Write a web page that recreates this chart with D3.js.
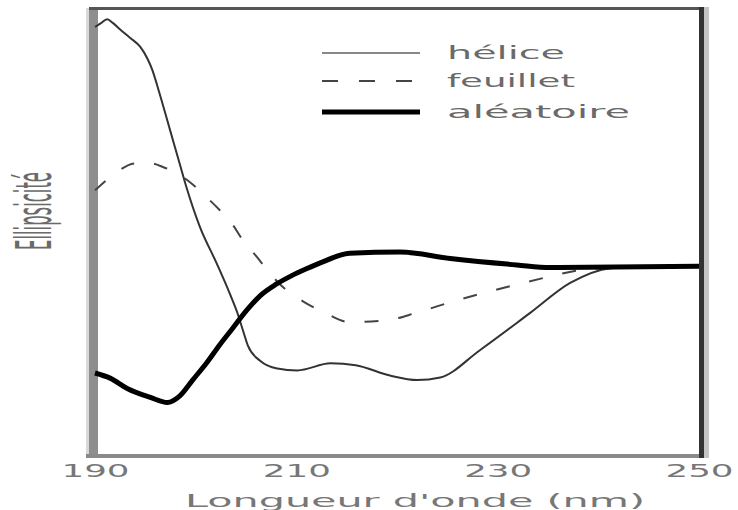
<!DOCTYPE html>
<html>
<head>
<meta charset="utf-8">
<script src="https://cdn.jsdelivr.net/npm/d3@7"></script>
<style>
  body { margin: 0; background: #fff; }
  text { font-family: "DejaVu Sans", "Liberation Sans", sans-serif; }
</style>
</head>
<body>
<script>
// Data (wavelength in nm, ellipticity in arbitrary units)
const heliceX = [190, 190.6, 191.2, 191.8, 192.5, 193.5, 194.5, 195.2, 195.7, 196.2, 197.45, 198.4, 199.1, 200.4, 202.1, 203.4, 204.2, 204.7, 205.2, 206.4, 208.1, 210.1, 213.4, 215.9, 219.3, 222, 224.3, 228.2, 233.2, 237.2, 241.2, 245.1, 250];
const heliceY = [3.72, 3.78, 3.84, 3.78, 3.68, 3.55, 3.41, 3.23, 3.05, 2.80, 2.12, 1.60, 1.22, 0.62, 0.04, -0.43, -0.75, -1.00, -1.24, -1.47, -1.59, -1.62, -1.51, -1.54, -1.70, -1.77, -1.73, -1.31, -0.73, -0.26, -0.03, 0, 0];

const feuilletX = [190, 191.8, 194, 195.5, 196.8, 199.4, 200.9, 202.4, 203.7, 204.7, 206.1, 207.1, 208.5, 210.7, 212.8, 215.3, 219, 222, 225.3, 228.5, 231.5, 234.9, 238.2, 241.2, 245.1, 250];
const feuilletY = [1.18, 1.42, 1.60, 1.60, 1.54, 1.31, 1.10, 0.87, 0.64, 0.40, 0.14, -0.06, -0.30, -0.55, -0.72, -0.87, -0.84, -0.72, -0.56, -0.42, -0.30, -0.17, -0.06, -0.02, 0, 0];

const aleatoireX = [190, 191.5, 193.2, 195.5, 197.2, 198.4, 199.7, 201.1, 202.4, 203.7, 205.1, 206.4, 208, 209.5, 211, 212.5, 215.3, 220.3, 225.3, 231.9, 235.2, 250];
const aleatoireY = [-1.66, -1.74, -1.90, -2.04, -2.12, -2.02, -1.77, -1.50, -1.22, -0.96, -0.68, -0.46, -0.28, -0.15, -0.04, 0.06, 0.20, 0.22, 0.12, 0.02, -0.02, 0];

const xTicks = [190, 210, 230, 250];
const legendLabels = ['hélice', 'feuillet', 'aléatoire'];

// Layout
const width = 738;
const height = 510;
const plotLeft = 95, plotRight = 699, plotTop = 9, plotBottom = 454;

const svg = d3.select('body')
  .append('svg')
  .attr('width', width)
  .attr('height', height);

const x = d3.scaleLinear().domain([190, 250]).range([plotLeft, plotRight]);
const y = d3.scaleLinear().domain([-2.92, 4]).range([plotBottom, plotTop]);

// Frame
svg.append('rect').attr('x', 86).attr('y', plotTop - 1).attr('width', 3).attr('height', plotBottom - plotTop + 5).attr('fill', '#d8d8d8');
svg.append('rect').attr('x', 89).attr('y', plotTop - 1).attr('width', 9).attr('height', plotBottom - plotTop + 5).attr('fill', '#8e8e8e');
svg.append('rect').attr('x', 89).attr('y', plotTop - 2).attr('width', plotRight - 89 + 5).attr('height', 3).attr('fill', '#555');
svg.append('rect').attr('x', plotRight).attr('y', plotTop - 2).attr('width', 5).attr('height', plotBottom - plotTop + 6).attr('fill', '#333');
svg.append('rect').attr('x', plotRight + 5).attr('y', plotTop - 2).attr('width', 5).attr('height', plotBottom - plotTop + 6).attr('fill', '#c4c4c4');
svg.append('rect').attr('x', 86).attr('y', plotBottom).attr('width', plotRight - 86).attr('height', 4).attr('fill', '#8a8a8a');

// Curves
const line = d3.line()
  .x(d => x(d[0]))
  .y(d => y(d[1]))
  .curve(d3.curveMonotoneX);

const series = [
  { name: 'hélice', pts: d3.zip(heliceX, heliceY), width: 2, color: '#333', dash: null },
  { name: 'feuillet', pts: d3.zip(feuilletX, feuilletY), width: 2, color: '#444', dash: '14,20' },
  { name: 'aléatoire', pts: d3.zip(aleatoireX, aleatoireY), width: 5, color: '#000', dash: null }
];

svg.selectAll('path.curve')
  .data(series)
  .enter()
  .append('path')
  .attr('class', 'curve')
  .attr('d', d => line(d.pts))
  .attr('fill', 'none')
  .attr('stroke', d => d.color)
  .attr('stroke-width', d => d.width)
  .attr('stroke-dasharray', d => d.dash);

// X axis labels (no tick marks)
const xAxis = svg.append('g')
  .attr('transform', `translate(0, ${plotBottom})`)
  .call(d3.axisBottom(x).tickValues(xTicks).tickSize(0).tickFormat(d3.format('d')));
xAxis.select('.domain').remove();
xAxis.selectAll('text')
  .attr('y', 23)
  .attr('dy', 0)
  .attr('font-size', 17)
  .attr('fill', '#777')
  .attr('textLength', 68)
  .attr('lengthAdjust', 'spacingAndGlyphs');

// Axis titles
svg.append('text')
  .attr('x', 415)
  .attr('y', 507)
  .attr('text-anchor', 'middle')
  .attr('font-size', 18)
  .attr('fill', '#777')
  .attr('textLength', 460)
  .attr('lengthAdjust', 'spacingAndGlyphs')
  .text("Longueur d'onde (nm)");

svg.append('text')
  .attr('transform', 'translate(51, 211) rotate(-90)')
  .attr('text-anchor', 'middle')
  .attr('font-size', 50)
  .attr('fill', '#6a6a6a')
  .attr('textLength', 78)
  .attr('lengthAdjust', 'spacingAndGlyphs')
  .text('Ellipsicité');

// Legend
const legendY = [53, 81, 112];
const legendW = [118, 128, 183];
const legend = svg.selectAll('g.legend')
  .data(series)
  .enter()
  .append('g')
  .attr('class', 'legend')
  .attr('transform', (d, i) => `translate(0, ${legendY[i]})`);

legend.append('line')
  .attr('x1', 322)
  .attr('x2', 420)
  .attr('stroke', (d, i) => i === 0 ? '#888' : d.color)
  .attr('stroke-width', d => d.width === 5 ? 5 : 2)
  .attr('stroke-dasharray', d => d.dash ? '16,21' : null);

legend.append('text')
  .attr('x', 447)
  .attr('y', 6)
  .attr('font-size', 18)
  .attr('fill', '#6a6a6a')
  .attr('textLength', (d, i) => legendW[i])
  .attr('lengthAdjust', 'spacingAndGlyphs')
  .text((d, i) => legendLabels[i]);
</script>
</body>
</html>
